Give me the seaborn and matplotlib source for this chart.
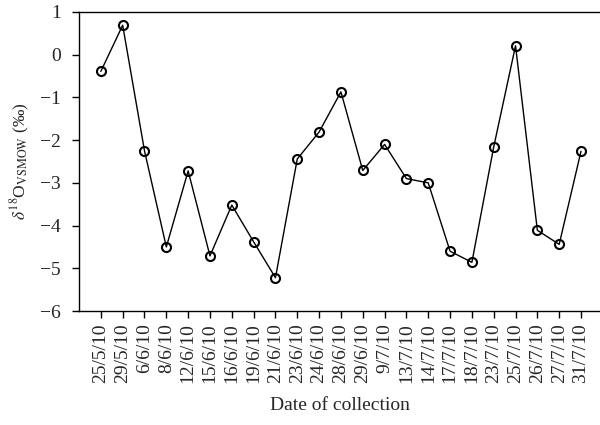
import matplotlib
matplotlib.use("Agg")
import matplotlib.pyplot as plt
import seaborn as sns
import pandas as pd
import numpy as np

dates = ["25/5/10", "29/5/10", "6/6/10", "8/6/10", "12/6/10", "15/6/10",
         "16/6/10", "19/6/10", "21/6/10", "23/6/10", "24/6/10", "28/6/10",
         "29/6/10", "9/7/10", "13/7/10", "14/7/10", "17/7/10", "18/7/10",
         "23/7/10", "25/7/10", "26/7/10", "27/7/10", "31/7/10"]
delta18o = [-0.39, 0.69, -2.25, -4.50, -2.72, -4.71, -3.52, -4.38, -5.22,
            -2.44, -1.81, -0.87, -2.71, -2.10, -2.90, -3.00, -4.60, -4.86,
            -2.16, 0.21, -4.11, -4.44, -2.26]
y_ticks = [1, 0, -1, -2, -3, -4, -5, -6]

sns.set_style("ticks")
plt.rcParams["font.family"] = ["Liberation Serif", "DejaVu Serif"]
plt.rcParams["mathtext.fontset"] = "stix"

df = pd.DataFrame({"pos": np.arange(len(dates)), "d18O": delta18o})

fig = plt.figure(figsize=(6.0, 4.25), dpi=100)
ax = fig.add_axes([0.1317, 0.2682, 0.8683, 0.7036])

sns.lineplot(data=df, x="pos", y="d18O", ax=ax, color="black", linewidth=1.0,
             marker="o", markersize=6.5, markerfacecolor="none",
             markeredgecolor="black", markeredgewidth=1.5, sort=False)

ax.set_xlim(-1, 22.87)
ax.set_ylim(-6, 1)
ax.set_xticks(df["pos"])
ax.set_xticklabels(dates, rotation=90, fontsize=14)
ax.set_yticks(y_ticks)
ax.set_yticklabels([("\u2212" + str(-v)) if v < 0 else str(v) for v in y_ticks],
                   fontsize=14)
ax.tick_params(axis="both", direction="out", length=5, width=1, color="black")
ax.tick_params(axis="x", pad=4)
ax.tick_params(axis="y", pad=8)

for side in ["left", "top", "bottom"]:
    ax.spines[side].set_color("black")
    ax.spines[side].set_linewidth(1.0)
ax.spines["right"].set_visible(False)

ax.set_xlabel("Date of collection", fontsize=14, labelpad=10)
ax.set_ylabel(r"$\delta^{18}$O$_{\mathrm{VSMOW}}$ (‰)", fontsize=12.5, labelpad=6)

fig.savefig("out.png", dpi=100)
